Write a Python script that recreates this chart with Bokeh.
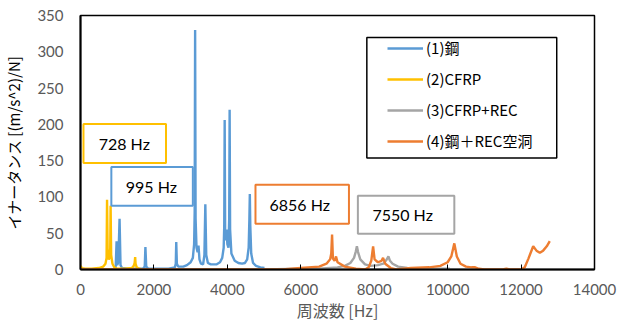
from bokeh.plotting import figure
from bokeh.models import Range1d, FixedTicker, BoxAnnotation, Label
from bokeh.embed import file_html
from bokeh.resources import INLINE

# ---- data ----
steel_hz = [930, 960, 983, 1000, 1030, 1064, 1090, 1130, 1300, 1700, 1750, 1768, 1790, 1850,
            2400, 2570, 2595, 2608, 2625, 2660, 2800, 2900, 3000, 3060, 3095, 3110, 3122, 3135,
            3160, 3190, 3214, 3240, 3280, 3340, 3375, 3400, 3425, 3470, 3550, 3700, 3800, 3860,
            3900, 3915, 3927, 3940, 3960, 3981, 4000, 4030, 4050, 4062, 4075, 4110, 4200, 4300,
            4400, 4480, 4540, 4580, 4600, 4612, 4625, 4650, 4700, 4780, 4900, 5010]
steel_val = [0, 5, 39, 6, 10, 70, 6, 2, 1, 1, 4, 31, 4, 1,
             1, 3, 8, 38, 8, 4, 4, 6, 10, 16, 35, 80, 330, 70,
             30, 24, 33, 14, 8, 7, 20, 90, 20, 9, 7, 7, 10, 16,
             30, 60, 206, 50, 40, 55, 35, 30, 70, 220, 55, 22, 12, 9,
             8, 9, 14, 30, 70, 104, 60, 22, 9, 5, 3, 2]

cfrp_hz = [0, 40, 120, 300, 500, 620, 680, 710, 723, 740, 770, 790, 810, 820, 835, 870, 920,
           1000, 1200, 1400, 1450, 1475, 1489, 1500, 1530, 1600, 1700]
cfrp_val = [5, 2, 1, 1, 2, 4, 8, 16, 96, 20, 14, 16, 30, 88, 20, 8, 3,
            1, 1, 2, 5, 9, 17, 8, 3, 1, 0]

cfrp_rec_hz = [0, 2000, 4000, 5000, 6000, 6500, 7000, 7200, 7350, 7450, 7500, 7528, 7560, 7620,
               7750, 7900, 8100, 8250, 8330, 8387, 8430, 8500, 8650, 8900, 9300, 9700, 10060]
cfrp_rec_val = [0, 0, 0, 0, 1, 1, 3, 5, 9, 16, 25, 32, 24, 14,
                7, 5, 6, 8, 13, 18, 12, 8, 4, 2, 1, 1, 1]

steel_rec_hz = [0, 2000, 4000, 5500, 6000, 6500, 6700, 6800, 6830, 6852, 6875, 6920, 6960, 7000,
                7200, 7500, 7750, 7850, 7920, 7970, 8010, 8100, 8200, 8241, 8300, 8450, 8600,
                9000, 9500, 9800, 10000, 10100, 10182, 10250, 10350, 10500, 10650, 10750, 10850,
                11000, 11500, 11600, 11700, 12000, 12100, 12200, 12330, 12420, 12511, 12600,
                12700, 12782]
steel_rec_val = [0, 0, 0, 0, 2, 4, 8, 14, 22, 48, 15, 12, 18, 10,
                 4, 1, 0, 3, 12, 32, 14, 10, 12, 16, 8, 2, 0,
                 2, 3, 5, 10, 18, 36, 18, 8, 4, 3, 3, 1,
                 0, 0, 1, 0, 0, 3, 15, 32, 26, 23, 26,
                 32, 39]

series_names = ["(1)鋼", "(2)CFRP", "(3)CFRP+REC", "(4)鋼＋REC空洞"]
series_colors = ["#5B9BD5", "#FFC000", "#A5A5A5", "#ED7D31"]

x_ticks = [0, 2000, 4000, 6000, 8000, 10000, 12000, 14000]
y_ticks = [0, 50, 100, 150, 200, 250, 300, 350]

callouts = ["728 Hz", "995 Hz", "6856 Hz", "7550 Hz"]
callout_colors = ["#FFC000", "#5B9BD5", "#ED7D31", "#A5A5A5"]

JP = "Noto Sans CJK JP"
NUM = "Lato"

p = figure(width=622, height=324,
           x_range=Range1d(0, 14000), y_range=Range1d(0, 350),
           output_backend="svg", toolbar_location=None,
           min_border_left=77, min_border_right=28, min_border_top=15, min_border_bottom=54)

p.xgrid.visible = False
p.ygrid.visible = False
p.outline_line_color = "black"
p.outline_line_width = 1.5
p.background_fill_color = "white"
p.border_fill_color = "white"

data = [(steel_hz, steel_val), (cfrp_hz, cfrp_val), (cfrp_rec_hz, cfrp_rec_val), (steel_rec_hz, steel_rec_val)]
for (xs, ys), name, col in zip(data, series_names, series_colors):
    p.line(xs, ys, line_color=col, line_width=2.4, legend_label=name)

# axes
p.xaxis.ticker = FixedTicker(ticks=x_ticks)
p.yaxis.ticker = FixedTicker(ticks=y_ticks)
for ax in (p.xaxis, p.yaxis):
    ax.axis_line_color = "black"
    ax.axis_line_width = 2
    ax.minor_tick_line_color = None
    ax.major_label_text_font = NUM
    ax.major_label_text_font_size = "15px"
    ax.major_label_text_color = "#595959"
    ax.axis_label_text_font = JP
    ax.axis_label_text_font_style = "normal"

p.xaxis.major_tick_in = 5
p.xaxis.major_tick_out = 0
p.xaxis.major_tick_line_color = "black"
p.xaxis.major_label_standoff = 14
p.xaxis.axis_label = "周波数 [Hz]"
p.xaxis.axis_label_text_color = "#595959"
p.xaxis.axis_label_text_font_size = "16px"
p.xaxis.axis_label_standoff = 0

p.yaxis.major_tick_in = 0
p.yaxis.major_tick_out = 0
p.yaxis.major_tick_line_color = None
p.yaxis.major_label_standoff = 17
p.yaxis.axis_label = "イナータンス [(m/s^2)/N]"
p.yaxis.axis_label_text_color = "black"
p.yaxis.axis_label_text_font_size = "15px"
p.yaxis.axis_label_standoff = 10

# legend
lg = p.legend[0]
lg.location = (307, 118)
lg.border_line_alpha = 0
lg.background_fill_alpha = 0
lg.padding = 0
lg.margin = 0
lg.spacing = 10
lg.glyph_width = 36
lg.glyph_height = 20
lg.label_height = 20
lg.label_standoff = 3
lg.label_text_font = JP
lg.label_text_font_size = "15px"
lg.label_text_color = "black"
lg.label_text_baseline = "middle"

p.add_layout(BoxAnnotation(left=7799, right=12971, bottom=153.7, top=319.8,
                           fill_alpha=0, line_color="black", line_alpha=1, line_width=1.5))

# callout boxes: (left, right, bottom, top), text center
box_geo = [(81, 2329, 146.9, 200.4), (840, 3060, 87.8, 141.4),
           (4766, 7312, 63.1, 116.7), (7555, 10182, 49.4, 101.6)]
text_pos = [(1192, 173.6), (1931, 114.3), (5971, 89.2), (8774, 75.5)]
for (l, r, b, t), (tx, ty), txt, col in zip(box_geo, text_pos, callouts, callout_colors):
    p.add_layout(BoxAnnotation(left=l, right=r, bottom=b, top=t,
                               fill_color="white", fill_alpha=1,
                               line_color=col, line_alpha=1, line_width=2))
    p.add_layout(Label(x=tx, y=ty, text=txt, text_align="center", text_baseline="middle",
                       text_font=NUM, text_font_size="16px", text_color="black"))

open("out.html", "w").write(file_html(p, INLINE))
